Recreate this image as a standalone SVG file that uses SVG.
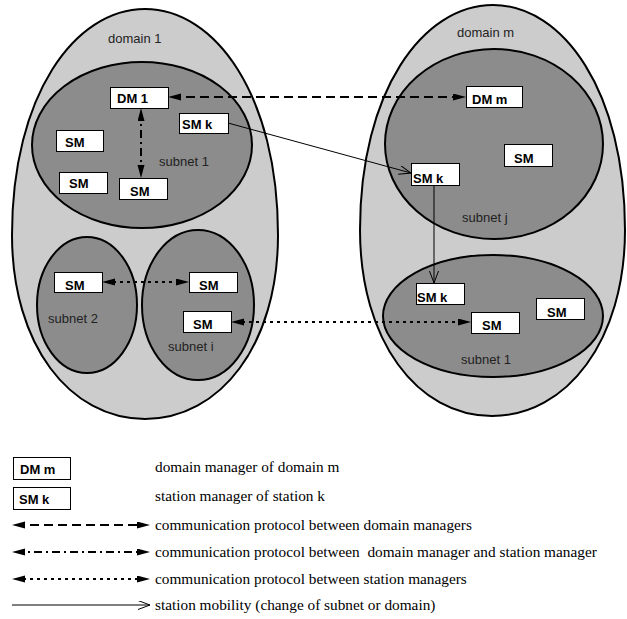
<svg xmlns="http://www.w3.org/2000/svg" width="627" height="619" viewBox="0 0 627 619">
<style>
.dom{fill:#cccccc;stroke:#000;stroke-width:2}
.sub{fill:#8c8c8c;stroke:#000;stroke-width:2}
.box{fill:#fff;stroke:#000;stroke-width:1}
.bt{font-family:"Liberation Sans",Arial,sans-serif;font-weight:bold;font-size:13px;fill:#000}
.lt{font-family:"Liberation Sans",Arial,sans-serif;font-size:13px;fill:#222}
.leg{font-family:"Liberation Serif","Times New Roman",serif;font-size:15.3px;fill:#000;white-space:pre}
.c{fill:none;stroke:#000}
.dash{stroke-width:2;stroke-dasharray:9 5}
.dd{stroke-width:2;stroke-dasharray:8 4 2 4}
.dot{stroke-width:2;stroke-dasharray:3 4}
.mob{stroke-width:1}
</style>
<defs>
<marker id="fa" markerUnits="userSpaceOnUse" markerWidth="14" markerHeight="8" refX="9" refY="3.5" orient="auto-start-reverse">
<path d="M0,0 L13,3.5 L0,7 z" fill="#000"/>
</marker>
<marker id="oa" markerUnits="userSpaceOnUse" markerWidth="14" markerHeight="10" refX="12" refY="4.5" orient="auto">
<path d="M0,0 L12,4.5 L0,9" fill="none" stroke="#000" stroke-width="1"/>
</marker>
</defs>
<rect width="627" height="619" fill="#fff"/>

<g id="domain-1">
<path class="dom" d="M145,9 C75,9 12,95 12,235 C12,345 70,419 145,419 C220,419 278,345 278,235 C278,95 215,9 145,9 Z"/>
<text class="lt" x="108" y="43">domain 1</text>
</g>
<g id="domain-m">
<path class="dom" d="M493,5 C423,5 360,91 360,230 C360,340 417,416 492,416 C567,416 625,340 625,230 C625,91 563,5 493,5 Z"/>
<text class="lt" x="457" y="37">domain m</text>
</g>
<g id="subnet-1-left">
<ellipse class="sub" cx="142" cy="145" rx="110" ry="83"/>
<text class="lt" x="159" y="166">subnet 1</text>
</g>
<g id="subnet-2">
<ellipse class="sub" cx="87" cy="305" rx="50" ry="68"/>
<text class="lt" x="48" y="323">subnet 2</text>
</g>
<g id="subnet-i">
<ellipse class="sub" cx="198" cy="305" rx="56" ry="75"/>
<text class="lt" x="168" y="351">subnet i</text>
</g>
<g id="subnet-j">
<ellipse class="sub" cx="494" cy="144" rx="109" ry="95"/>
<text class="lt" x="462" y="222">subnet j</text>
</g>
<g id="subnet-1-right">
<ellipse class="sub" cx="493" cy="316" rx="110" ry="61"/>
<text class="lt" x="461" y="364">subnet 1</text>
</g>

<g id="connectors">
<line class="c dash" x1="172" y1="97" x2="462" y2="97" marker-start="url(#fa)" marker-end="url(#fa)"/>
<line class="c dd" x1="141" y1="112" x2="141" y2="174" marker-start="url(#fa)" marker-end="url(#fa)"/>
<line class="c dot" x1="106" y1="282" x2="185" y2="282" marker-start="url(#fa)" marker-end="url(#fa)"/>
<line class="c dot" x1="235" y1="322" x2="467" y2="322" marker-start="url(#fa)" marker-end="url(#fa)"/>
<line class="c mob" x1="228" y1="123" x2="411" y2="173" marker-end="url(#oa)"/>
<line class="c mob" x1="434" y1="185" x2="434" y2="283" marker-end="url(#oa)"/>
</g>

<g id="dm-1"><rect class="box" x="110.5" y="87.5" width="58" height="21"/><text class="bt" x="117" y="103">DM 1</text></g>
<g id="sm-k-left"><rect class="box" x="179.5" y="113.5" width="49" height="20"/><text class="bt" x="182" y="129">SM k</text></g>
<g id="sm-a"><rect class="box" x="56.5" y="130.5" width="47" height="21"/><text class="bt" x="65" y="147">SM</text></g>
<g id="sm-b"><rect class="box" x="59.5" y="172.5" width="48" height="21"/><text class="bt" x="69" y="188">SM</text></g>
<g id="sm-c"><rect class="box" x="119.5" y="178.5" width="48" height="21"/><text class="bt" x="130" y="196">SM</text></g>
<g id="dm-m"><rect class="box" x="466.5" y="86.5" width="56" height="21"/><text class="bt" x="472" y="104">DM m</text></g>
<g id="sm-j"><rect class="box" x="504.5" y="144.5" width="48" height="22"/><text class="bt" x="514" y="163">SM</text></g>
<g id="sm-k-right"><rect class="box" x="411.5" y="163.5" width="48" height="22"/><text class="bt" x="413" y="183">SM k</text></g>
<g id="sm-subnet2"><rect class="box" x="54.5" y="272.5" width="48" height="20"/><text class="bt" x="65" y="290">SM</text></g>
<g id="sm-i-top"><rect class="box" x="189.5" y="272.5" width="48" height="20"/><text class="bt" x="199" y="290">SM</text></g>
<g id="sm-i-low"><rect class="box" x="183.5" y="311.5" width="48" height="21"/><text class="bt" x="193" y="329">SM</text></g>
<g id="sm-k-bottom"><rect class="box" x="416.5" y="283.5" width="48" height="21"/><text class="bt" x="417" y="302">SM k</text></g>
<g id="sm-r-low"><rect class="box" x="471.5" y="312.5" width="48" height="21"/><text class="bt" x="482" y="330">SM</text></g>
<g id="sm-r-far"><rect class="box" x="536.5" y="298.5" width="48" height="21"/><text class="bt" x="547" y="317">SM</text></g>

<g id="legend">
<rect class="box" x="13.5" y="457.5" width="57" height="22"/><text class="bt" x="20" y="474">DM m</text>
<text class="leg" x="155" y="472">domain manager of domain m</text>
<rect class="box" x="13.5" y="487.5" width="57" height="22"/><text class="bt" x="19" y="504">SM k</text>
<text class="leg" x="155" y="501">station manager of station k</text>
<line class="c dash" x1="16" y1="525" x2="146" y2="525" marker-start="url(#fa)" marker-end="url(#fa)"/>
<text class="leg" x="155" y="530">communication protocol between domain managers</text>
<line class="c dd" x1="16" y1="552" x2="146" y2="552" marker-start="url(#fa)" marker-end="url(#fa)"/>
<text class="leg" x="155" y="557" xml:space="preserve">communication protocol between  domain manager and station manager</text>
<line class="c dot" x1="16" y1="579" x2="146" y2="579" marker-start="url(#fa)" marker-end="url(#fa)"/>
<text class="leg" x="155" y="584">communication protocol between station managers</text>
<line class="c mob" x1="12" y1="605" x2="150" y2="605" marker-end="url(#oa)"/>
<text class="leg" x="155" y="610">station mobility (change of subnet or domain)</text>
</g>
</svg>
